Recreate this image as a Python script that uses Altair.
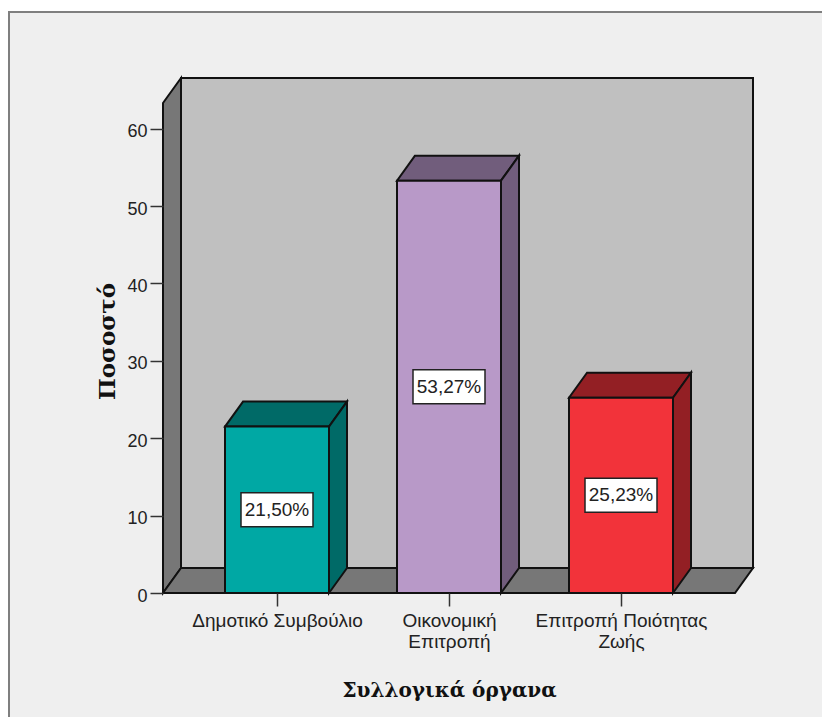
import altair as alt
import pandas as pd

categories = ["Δημοτικό Συμβούλιο", "Οικονομική Επιτροπή", "Επιτροπή Ποιότητας Ζωής"]
values = [21.50, 53.27, 25.23]
value_labels = ["21,50%", "53,27%", "25,23%"]
front_colors = ["#00a8a4", "#b899c8", "#f2333a"]
shade_colors = ["#006a67", "#715d7c", "#931f24"]
y_ticks = [0, 10, 20, 30, 40, 50, 60]

# Plot geometry (pixels)
W, H = 590, 515
PX_PER_CAT = 172.0
PX_PER_PCT = 7.74
FIRST_CENTER = 114.0
BAR_W = 104.0 / PX_PER_CAT
DX = 18.0 / PX_PER_CAT
DY = 25.0 / PX_PER_PCT
XMIN = -FIRST_CENTER / PX_PER_CAT
XMAX = (W - FIRST_CENTER) / PX_PER_CAT
YMAX = H / PX_PER_PCT

x_scale = alt.Scale(domain=[XMIN, XMAX], nice=False, zero=False)
y_scale = alt.Scale(domain=[0, YMAX], nice=False, zero=False)

idx = list(range(len(categories)))
front = pd.DataFrame({
    "x": [i - BAR_W / 2 for i in idx],
    "x2": [i + BAR_W / 2 for i in idx],
    "y": values,
    "mid": [v / 2 for v in values],
    "c": idx,
    "label": value_labels,
})

top_rows, side_rows = [], []
for i, v in zip(idx, values):
    l, r = i - BAR_W / 2, i + BAR_W / 2
    top_rows += [
        {"c": i, "y": v, "x": l, "x2": r},
        {"c": i, "y": v + DY, "x": l + DX, "x2": r + DX},
    ]
    side_rows += [
        {"c": i, "x": r, "y": v, "y2": 0},
        {"c": i, "x": r + DX, "y": v + DY, "y2": DY},
    ]
top = pd.DataFrame(top_rows)
side = pd.DataFrame(side_rows)

x_axis = alt.Axis(
    values=idx, domain=False, grid=False, tickSize=13, tickWidth=1.5, tickColor="#333333", zindex=1,
    labelExpr="datum.value == 0 ? 'Δημοτικό Συμβούλιο' : datum.value == 1 ? ['Οικονομική', 'Επιτροπή'] : ['Επιτροπή Ποιότητας', 'Ζωής']",
    labelFont="Liberation Sans", labelFontSize=19, labelColor="#222222", labelPadding=5,
    labelLineHeight=21, labelOverlap=False, labelFlush=False, labelAngle=0,
    title="Συλλογικά όργανα", titleFont="DejaVu Serif", titleFontWeight="bold", titleFontSize=20,
    titleColor="#111111", titleX=286, titleY=87,
)
y_axis = alt.Axis(
    values=y_ticks, domain=False, grid=False, tickSize=13, tickWidth=1.5, tickColor="#333333", zindex=1,
    labelFont="Liberation Sans", labelFontSize=18, labelColor="#222222", labelPadding=3, labelOffset=3,
    title="Ποσοστό", titleFont="DejaVu Serif", titleFontWeight="bold", titleFontSize=23,
    titleColor="#111111", titleX=-44, titleY=263,
)

X = alt.X("x:Q", scale=x_scale, axis=x_axis, stack=None)
Y = alt.Y("y:Q", scale=y_scale, axis=y_axis, stack=None)
STROKE = dict(stroke="#111111", strokeWidth=2, opacity=1)

frame = alt.Chart(pd.DataFrame({"a": [0]})).mark_rect(
    fill="#efefef", stroke="#7f7f7f", strokeWidth=2
).encode(
    x=alt.value(-154), x2=alt.value(720), y=alt.value(-66), y2=alt.value(640)
)

back_wall = alt.Chart(pd.DataFrame({"x": [XMIN + DX], "x2": [XMAX], "y": [YMAX], "y2": [DY]})).mark_rect(
    fill="#c0c0c0", **STROKE
).encode(x=X, x2="x2:Q", y=Y, y2="y2:Q")

left_wall = alt.Chart(pd.DataFrame({
    "x": [XMIN, XMIN + DX], "y": [YMAX - DY, YMAX], "y2": [0, DY]
})).mark_area(fill="#777777", **STROKE).encode(x=X, y=Y, y2="y2:Q")

floor = alt.Chart(pd.DataFrame({
    "y": [0, DY], "x": [XMIN, XMIN + DX], "x2": [XMAX - DX, XMAX]
})).mark_area(fill="#777777", orient="horizontal", **STROKE).encode(x=X, x2="x2:Q", y=Y)

shade = alt.Color("c:N", scale=alt.Scale(domain=idx, range=shade_colors), legend=None)
top_face = alt.Chart(top).mark_area(orient="horizontal", **STROKE).encode(x=X, x2="x2:Q", y=Y, color=shade)
side_face = alt.Chart(side).mark_area(**STROKE).encode(x=X, y=Y, y2="y2:Q", color=shade)
front_face = alt.Chart(front).mark_rect(**STROKE).encode(
    x=X, x2="x2:Q", y=Y, y2=alt.datum(0),
    color=alt.Color("c:N", scale=alt.Scale(domain=idx, range=front_colors), legend=None),
)

label_base = alt.Chart(front).encode(
    x=alt.X("c:Q", scale=x_scale, axis=x_axis),
    y=alt.Y("mid:Q", scale=y_scale, axis=y_axis),
)
label_box = label_base.mark_point(
    shape="M-36,-17H36V17H-36Z", filled=True, fill="white", stroke="#222222", strokeWidth=1.5, opacity=1
).encode(size=alt.value(4))
label_text = label_base.mark_text(font="Liberation Sans", fontSize=19, color="#222222").encode(text="label:N")

chart = alt.layer(
    frame, back_wall, left_wall, floor, top_face, side_face, front_face, label_box, label_text
).resolve_scale(color="independent").properties(
    width=W, height=H,
    padding={"left": 155, "top": 70, "right": 69, "bottom": 124},
    autosize=alt.AutoSizeParams(type="none"),
    background="white",
).configure_view(stroke=None)

chart.save("out.html", embed_options={"renderer": "svg", "actions": False})
